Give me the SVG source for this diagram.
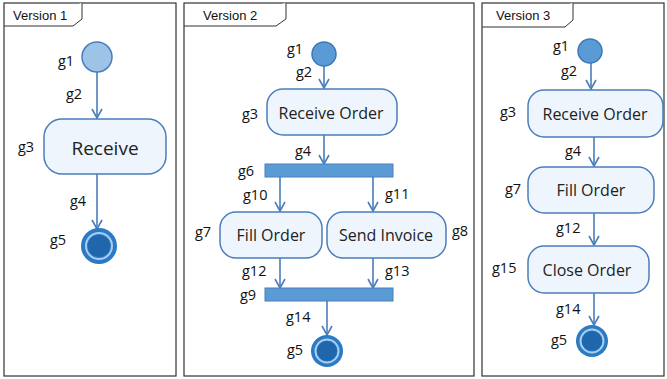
<svg xmlns="http://www.w3.org/2000/svg" width="667" height="379" viewBox="0 0 667 379">
<defs>
<style>
.frame{fill:#fff;stroke:#333;stroke-width:1.2}
.tab{fill:#fff;stroke:#333;stroke-width:1}
.tabt{font-family:"Liberation Sans",Arial,sans-serif;font-size:13px;fill:#111}
.act{fill:#eef5fc;stroke:#4a7ebb;stroke-width:1.5}
.at{font-family:"Open Sans","Noto Sans",sans-serif;font-size:16px;fill:#222;text-anchor:middle}
.lbl{font-family:"Open Sans","Noto Sans",sans-serif;font-size:14.5px;fill:#111}
.bar{fill:#5b9bd5;stroke:#4a7ebb;stroke-width:1}
.init{fill:#5b9bd5;stroke:#3d79b8;stroke-width:1.5}
.fo{fill:#2a7ac4}
.fr{fill:none;stroke:#a9cdf0;stroke-width:2}
.fi{fill:#1f66ad}
.edge{stroke:#4a7ebb;stroke-width:1.6;fill:none;marker-end:url(#arr)}
</style>
<marker id="arr" viewBox="0 0 12 12" refX="11" refY="6" markerWidth="12" markerHeight="12" markerUnits="userSpaceOnUse" orient="auto">
<path d="M2,1 L11,6 L2,11" fill="none" stroke="#4a7ebb" stroke-width="1.6"/>
</marker>
</defs>
<rect width="667" height="379" fill="#fff"/>

<!-- Panel 1 -->
<g id="frame1">
<rect class="frame" x="4" y="3" width="172" height="373"/>
<path class="tab" d="M4,26 H73 L82,19 V3"/>
<text class="tabt" x="13" y="20">Version 1</text>
</g>
<!-- Panel 2 -->
<g id="frame2">
<rect class="frame" x="184" y="3" width="290" height="373"/>
<path class="tab" d="M184,26 H276 L286,19 V3"/>
<text class="tabt" x="203" y="20">Version 2</text>
</g>
<!-- Panel 3 -->
<g id="frame3">
<rect class="frame" x="482" y="3" width="182" height="373"/>
<path class="tab" d="M482,27 H565 L573,20 V3"/>
<text class="tabt" x="496" y="20">Version 3</text>
</g>

<g id="connectors">
<line class="edge" x1="97" y1="72" x2="97" y2="118"/>
<line class="edge" x1="97" y1="174" x2="97" y2="229"/>

<line class="edge" x1="324" y1="66" x2="324" y2="88"/>
<line class="edge" x1="324" y1="135" x2="324" y2="164"/>
<line class="edge" x1="280" y1="177" x2="280" y2="211"/>
<line class="edge" x1="373" y1="177" x2="373" y2="211"/>
<line class="edge" x1="280" y1="258" x2="280" y2="288"/>
<line class="edge" x1="373" y1="258" x2="373" y2="288"/>
<line class="edge" x1="327" y1="301" x2="327" y2="335"/>

<line class="edge" x1="591" y1="63" x2="591" y2="89"/>
<line class="edge" x1="594" y1="137" x2="594" y2="166"/>
<line class="edge" x1="594" y1="213" x2="594" y2="245"/>
<line class="edge" x1="594" y1="293" x2="594" y2="325"/>
</g>

<g id="edge-labels">
<text class="lbl" x="66" y="99">g2</text>
<text class="lbl" x="70" y="206">g4</text>
<text class="lbl" x="296" y="77">g2</text>
<text class="lbl" x="295" y="156">g4</text>
<text class="lbl" x="243" y="200">g10</text>
<text class="lbl" x="385" y="199">g11</text>
<text class="lbl" x="242" y="276">g12</text>
<text class="lbl" x="385" y="276">g13</text>
<text class="lbl" x="286" y="322">g14</text>
<text class="lbl" x="561" y="76">g2</text>
<text class="lbl" x="565" y="156">g4</text>
<text class="lbl" x="556" y="233">g12</text>
<text class="lbl" x="556" y="314">g14</text>
</g>

<!-- Panel 1 nodes -->
<g id="p1-g1">
<circle cx="97" cy="57" r="15" fill="#9dc3e6" stroke="#4a7ebb" stroke-width="1.5"/>
<text class="lbl" x="58" y="66">g1</text>
</g>
<g id="p1-g3">
<rect class="act" x="44" y="119" width="122" height="55" rx="18"/>
<text class="at" x="105" y="155" style="font-size:19px">Receive</text>
<text class="lbl" x="18" y="152">g3</text>
</g>
<g id="p1-g5">
<circle class="fo" cx="99" cy="246" r="18"/>
<circle class="fr" cx="99" cy="246" r="13"/>
<circle class="fi" cx="99" cy="246" r="11"/>
<text class="lbl" x="50" y="245">g5</text>
</g>

<!-- Panel 2 nodes -->
<g id="p2-g1">
<circle class="init" cx="324" cy="54" r="12"/>
<text class="lbl" x="287" y="54">g1</text>
</g>
<g id="p2-g3">
<rect class="act" x="267" y="89" width="130" height="46" rx="16"/>
<text class="at" x="331" y="119">Receive Order</text>
<text class="lbl" x="242" y="119">g3</text>
</g>
<g id="p2-g6">
<rect class="bar" x="265" y="164" width="128" height="13"/>
<text class="lbl" x="238" y="176">g6</text>
</g>
<g id="p2-g7">
<rect class="act" x="220" y="212" width="102" height="46" rx="16"/>
<text class="at" x="271" y="241">Fill Order</text>
<text class="lbl" x="195" y="237">g7</text>
</g>
<g id="p2-g8">
<rect class="act" x="327" y="212" width="119" height="46" rx="16"/>
<text class="at" x="386" y="241">Send Invoice</text>
<text class="lbl" x="452" y="236">g8</text>
</g>
<g id="p2-g9">
<rect class="bar" x="265" y="288" width="128" height="13"/>
<text class="lbl" x="240" y="300">g9</text>
</g>
<g id="p2-g5">
<circle class="fo" cx="327" cy="351" r="16"/>
<circle class="fr" cx="327" cy="351" r="11.5"/>
<circle class="fi" cx="327" cy="351" r="10"/>
<text class="lbl" x="287" y="355">g5</text>
</g>

<!-- Panel 3 nodes -->
<g id="p3-g1">
<circle class="init" cx="590" cy="51" r="12"/>
<text class="lbl" x="553" y="51">g1</text>
</g>
<g id="p3-g3">
<rect class="act" x="528" y="90" width="135" height="47" rx="16"/>
<text class="at" x="595" y="120">Receive Order</text>
<text class="lbl" x="500" y="117">g3</text>
</g>
<g id="p3-g7">
<rect class="act" x="528" y="167" width="126" height="46" rx="16"/>
<text class="at" x="591" y="196">Fill Order</text>
<text class="lbl" x="505" y="194">g7</text>
</g>
<g id="p3-g15">
<rect class="act" x="528" y="246" width="121" height="47" rx="16"/>
<text class="at" x="587" y="276">Close Order</text>
<text class="lbl" x="492" y="273">g15</text>
</g>
<g id="p3-g5">
<circle class="fo" cx="592" cy="341" r="16"/>
<circle class="fr" cx="592" cy="341" r="11.5"/>
<circle class="fi" cx="592" cy="341" r="10"/>
<text class="lbl" x="551" y="345">g5</text>
</g>
</svg>
